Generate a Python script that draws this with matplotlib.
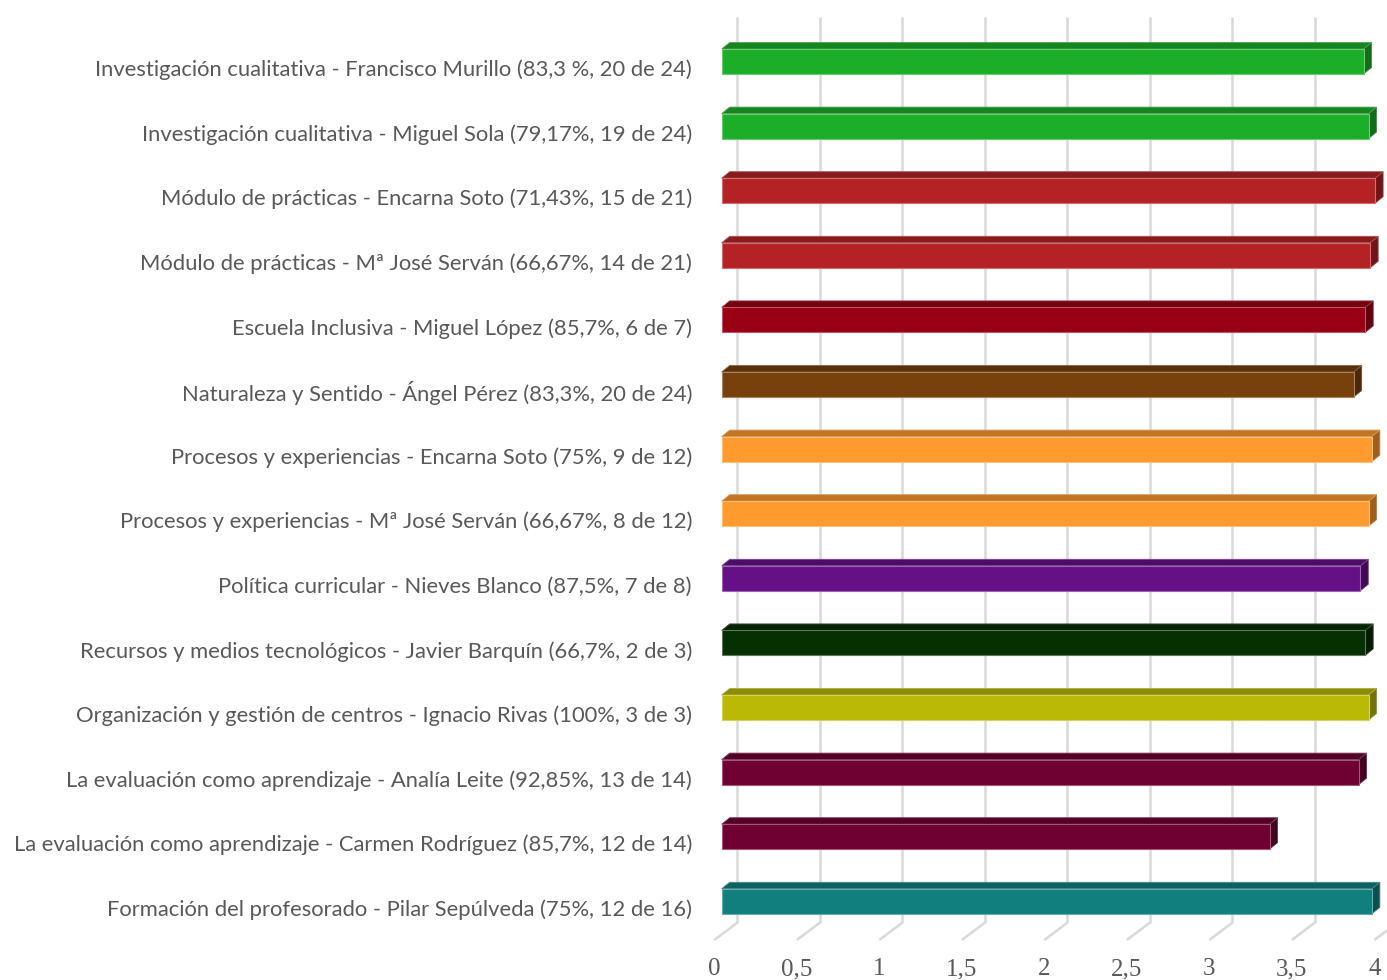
import matplotlib
matplotlib.use("Agg")
import matplotlib.pyplot as plt
from matplotlib.patches import Polygon
from matplotlib.colors import to_rgb

categories = [
    "Investigación cualitativa - Francisco Murillo (83,3 %, 20 de 24)",
    "Investigación cualitativa - Miguel Sola (79,17%, 19 de 24)",
    "Módulo de prácticas - Encarna Soto (71,43%, 15 de 21)",
    "Módulo de prácticas - Mª José Serván (66,67%, 14 de 21)",
    "Escuela Inclusiva - Miguel López (85,7%, 6 de 7)",
    "Naturaleza y Sentido - Ángel Pérez (83,3%, 20 de 24)",
    "Procesos y experiencias - Encarna Soto (75%, 9 de 12)",
    "Procesos y experiencias - Mª José Serván (66,67%, 8 de 12)",
    "Política curricular - Nieves Blanco (87,5%, 7 de 8)",
    "Recursos y medios tecnológicos - Javier Barquín (66,7%, 2 de 3)",
    "Organización y gestión de centros - Ignacio Rivas (100%, 3 de 3)",
    "La evaluación como aprendizaje - Analía Leite (92,85%, 13 de 14)",
    "La evaluación como aprendizaje - Carmen Rodríguez (85,7%, 12 de 14)",
    "Formación del profesorado - Pilar Sepúlveda (75%, 12 de 16)",
]
values = [3.89, 3.92, 3.96, 3.93, 3.90, 3.83, 3.94, 3.92, 3.87, 3.90, 3.92, 3.86, 3.32, 3.94]
ticks = [0, 0.5, 1, 1.5, 2, 2.5, 3, 3.5, 4]
tick_labels = ["0", "0,5", "1", "1,5", "2", "2,5", "3", "3,5", "4"]

bar_colors = ["#1DAE29", "#1DAE29", "#B52225", "#B52225", "#9A0013", "#78400D",
              "#FF9A2E", "#FF9A2E", "#651086", "#062F02", "#BABA06", "#6E0032",
              "#6E0032", "#127F7F"]

W, H, DPI = 1387, 980, 100
fig = plt.figure(figsize=(W / DPI, H / DPI), dpi=DPI)
ax = fig.add_axes([0, 0, 1, 1])
ax.axis("off")

# scale: px per unit
sx = 165.0
sy = 64.6
x0px = 721.7
y0px = 61.5
ax.set_xlim(-x0px / sx, (W - x0px) / sx)
ax.set_ylim((H - y0px) / sy, -y0px / sy)

def shade(c, f):
    r, g, b = to_rgb(c)
    return (r * f, g * f, b * f)

def light(c, f):
    r, g, b = to_rgb(c)
    return (r + (1 - r) * f, g + (1 - g) * f, b + (1 - b) * f)

# 3D geometry (data units)
wall_dx = 15.6 / sx
floor_dx = -7.4 / sx
floor_dy = 17.3 / sy
bar_h = 25 / sy
bar_dx = 8 / sx
bar_dy = 6.5 / sy

grid_top = (17 - y0px) / sy
grid_bot = (922.7 - y0px) / sy
grid_col = "#D9D9D9"
for t in ticks:
    xb = t + wall_dx
    ax.plot([xb, xb], [grid_top, grid_bot], color=grid_col, lw=1.8, solid_capstyle="butt", zorder=1)
    ax.plot([xb, t + floor_dx], [grid_bot, grid_bot + floor_dy], color=grid_col, lw=1.8,
            solid_capstyle="butt", zorder=1)

# bars
for i, (v, c) in enumerate(zip(values, bar_colors)):
    top = i - bar_h / 2
    bot = i + bar_h / 2
    edge = light(c, 0.35)
    front = Polygon([(0, top), (v, top), (v, bot), (0, bot)], closed=True,
                    facecolor=c, edgecolor=edge, lw=0.8, zorder=3)
    topf = Polygon([(0, top), (v, top), (v + bar_dx, top - bar_dy), (bar_dx, top - bar_dy)],
                   closed=True, facecolor=shade(c, 0.76), edgecolor=light(shade(c, 0.76), 0.25),
                   lw=0.6, zorder=3)
    side = Polygon([(v, top), (v + bar_dx, top - bar_dy), (v + bar_dx, bot - bar_dy), (v, bot)],
                   closed=True, facecolor=shade(c, 0.62), edgecolor=light(shade(c, 0.62), 0.2),
                   lw=0.6, zorder=3)
    for p in (side, topf, front):
        ax.add_patch(p)

# category labels
label_x = (692 - x0px) / sx
label_dy = 8.5 / sy
txts = []
for i, lab in enumerate(categories):
    t = ax.text(label_x, i + label_dy, lab, ha="right", va="center", fontsize=16,
                family="Lato", color="#595959")
    txts.append(t)

# fit label font so widest label spans ~682 px
fig.canvas.draw()
r = fig.canvas.get_renderer()
maxw = max(t.get_window_extent(r).width for t in txts)
fs = 16 * 682.0 / maxw
for t in txts:
    t.set_fontsize(fs)

# tick labels
tick_y = (969 - y0px) / sy
for t, lab in zip(ticks, tick_labels):
    ax.text(t + floor_dx, tick_y, lab, ha="center", va="center", fontsize=18,
            family="Liberation Serif", color="#595959")

fig.savefig("out.png", dpi=DPI)
